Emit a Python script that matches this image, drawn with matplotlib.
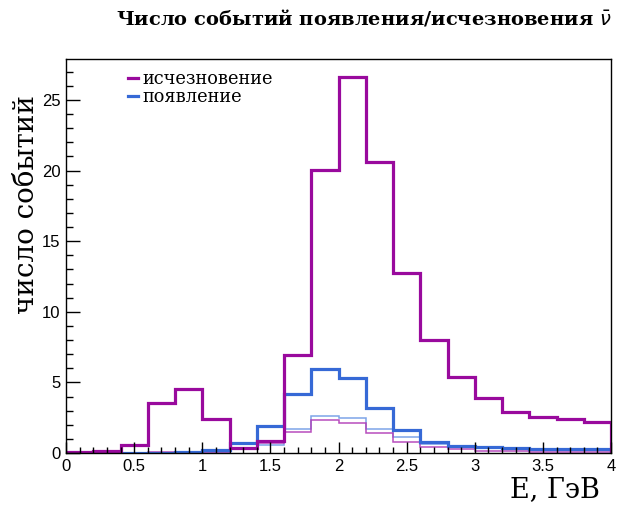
import numpy as np
import matplotlib
matplotlib.use("Agg")
import matplotlib.pyplot as plt
from matplotlib.ticker import MultipleLocator

# energy binning, GeV
edges = np.linspace(0.0, 4.0, 21)

# disappearance / appearance event counts per bin
disap = [0.05, 0.17, 0.57, 3.52, 4.54, 2.39, 0.35, 0.83, 6.95, 20.07,
         26.6, 20.6, 12.77, 8.0, 5.4, 3.88, 2.89, 2.52, 2.38, 2.18]
appear = [0.0, 0.0, 0.03, 0.03, 0.05, 0.22, 0.73, 1.91, 4.16, 5.96,
          5.32, 3.17, 1.63, 0.78, 0.5, 0.43, 0.36, 0.3, 0.29, 0.28]
# background-like thin curves
disap_bg = [0.02, 0.02, 0.03, 0.04, 0.05, 0.1, 0.33, 0.7, 1.52, 2.34,
            2.15, 1.4, 0.76, 0.45, 0.28, 0.16, 0.16, 0.1, 0.1, 0.1]
appear_bg = [0.0, 0.0, 0.02, 0.03, 0.05, 0.1, 0.3, 0.6, 1.7, 2.61,
             2.46, 1.68, 1.1, 0.63, 0.4, 0.34, 0.33, 0.3, 0.25, 0.25]

labels = ["исчезновение", "появление"]
title = r"Число событий появления/исчезновения $\bar{\nu}$"

c_dis = "#990a9d"
c_app = "#3669d6"

fig = plt.figure(figsize=(6.3, 5.08), dpi=100)
ax = fig.add_axes([66 / 630, 55 / 508, 545 / 630, 394 / 508])

ax.stairs(appear_bg, edges, color="#6f9ae6", lw=1.1, alpha=0.9)
ax.stairs(disap_bg, edges, color="#b03ab6", lw=1.1, alpha=0.9)
ax.stairs(appear, edges, color=c_app, lw=2.3, label=labels[1])
ax.stairs(disap, edges, color=c_dis, lw=2.3, label=labels[0])

ax.set_xlim(0, 4)
ax.set_ylim(0, 27.9)

ax.xaxis.set_major_locator(MultipleLocator(0.5))
ax.xaxis.set_minor_locator(MultipleLocator(0.1))
ax.yaxis.set_major_locator(MultipleLocator(5))
ax.yaxis.set_minor_locator(MultipleLocator(1))
ax.set_xticks([0, 0.5, 1, 1.5, 2, 2.5, 3, 3.5, 4])
ax.set_xticklabels(["0", "0.5", "1", "1.5", "2", "2.5", "3", "3.5", "4"])
ax.tick_params(which="both", direction="in", top=False, right=False,
               labelsize=12)
ax.tick_params(axis="x", which="major", length=8, width=1, pad=4)
ax.tick_params(axis="x", which="minor", length=4, width=1)
ax.tick_params(axis="y", which="major", length=10, width=1, pad=4)
ax.tick_params(axis="y", which="minor", length=5, width=1)
for lab in ax.get_xticklabels() + ax.get_yticklabels():
    lab.set_fontfamily("Liberation Sans")
for sp in ax.spines.values():
    sp.set_linewidth(1.0)

h, l = ax.get_legend_handles_labels()
ax.legend(h[::-1], l[::-1], loc="upper left", bbox_to_anchor=(0.1, 0.99),
          frameon=False, handlelength=0.6, handletextpad=0.25,
          labelspacing=0.0, borderaxespad=0,
          prop={"family": "DejaVu Serif", "size": 12.8})

fig.text(612 / 630, 1 - 18 / 508, title, ha="right", va="center",
         family="DejaVu Serif", weight="bold", fontsize=14)
fig.text(27 / 630, 1 - 205 / 508, "число событий", rotation=90,
         ha="center", va="center", family="DejaVu Serif", fontsize=20)
fig.text(600 / 630, 1 - 490 / 508, "Е, ГэВ", ha="right", va="center",
         family="DejaVu Serif", fontsize=19.5)

fig.savefig("out.png", dpi=100)
